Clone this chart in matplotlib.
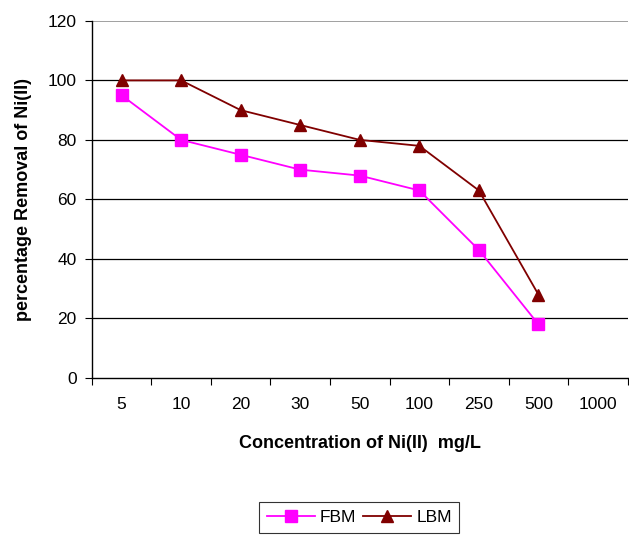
import numpy as np
import matplotlib
matplotlib.use('Agg')
import matplotlib.pyplot as plt

plt.rcParams['font.family'] = ['Liberation Sans', 'DejaVu Sans']

categories = ['5', '10', '20', '30', '50', '100', '250', '500', '1000']
fbm = [95, 80, 75, 70, 68, 63, 43, 18]
lbm = [100, 100, 90, 85, 80, 78, 63, 28]

fig = plt.figure(figsize=(6.29, 5.36), dpi=100)
ax = fig.add_axes([0.146, 0.295, 0.852, 0.666])

xpos = np.arange(len(fbm)) + 0.5
ax.plot(xpos, fbm, color='#FF00FF', lw=1.3, marker='s', ms=9, label='FBM', zorder=3)
ax.plot(xpos, lbm, color='#800000', lw=1.3, marker='^', ms=9, label='LBM', zorder=3)

ax.set_xlim(0, len(categories))
ax.set_ylim(0, 120)
ax.set_yticks(range(0, 121, 20))
ax.set_xticks(np.arange(len(categories) + 1), minor=False)
ax.set_xticklabels([])
ax.set_xticks(np.arange(len(categories)) + 0.5, minor=True)
ax.set_xticklabels(categories, minor=True)
ax.tick_params(axis='x', which='minor', length=0, pad=14, labelsize=12.5)
ax.tick_params(axis='x', which='major', length=5, direction='out')
ax.tick_params(axis='y', length=5, direction='out', labelsize=12.5, pad=6)

for y in range(20, 101, 20):
    ax.axhline(y, color='black', lw=0.9, zorder=1)
ax.axhline(120, color='#909090', lw=1.2, zorder=1)

for s in ['top', 'right']:
    ax.spines[s].set_visible(False)
ax.spines['left'].set_linewidth(1.0)
ax.spines['bottom'].set_linewidth(1.0)

ax.set_xlabel('Concentration of Ni(II)  mg/L', fontsize=13, fontweight='bold', labelpad=16)
ax.set_ylabel('percentage Removal of Ni(II)', fontsize=13, fontweight='bold', labelpad=11)

leg = fig.legend(loc='center', bbox_to_anchor=(0.5715, 0.035), ncol=2, frameon=True,
                 fancybox=False, edgecolor='black', fontsize=12.5, handlelength=2.75,
                 columnspacing=0.4, handletextpad=0.29, borderpad=0.45)
leg.get_frame().set_linewidth(0.8)

fig.savefig('out.png', dpi=100)
